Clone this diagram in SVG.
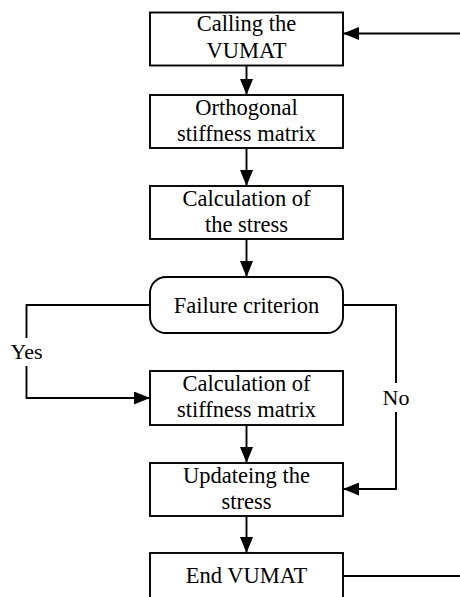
<svg xmlns="http://www.w3.org/2000/svg" width="460" height="597" viewBox="0 0 460 597">
<defs>
<marker id="ah" viewBox="0 0 16 13" refX="16" refY="6.5" markerWidth="16" markerHeight="13" markerUnits="userSpaceOnUse" orient="auto">
<path d="M0,0 L16,6.5 L0,13 Z" fill="#000"/>
</marker>
<style>
.box{fill:#fff;stroke:#000;stroke-width:1.9}
.t{font-size:22.5px;fill:#000;text-anchor:middle}
.c{fill:none;stroke:#000;stroke-width:1.9}
.lbl{font-size:22px;fill:#000;text-anchor:middle}
</style>
</defs>
<rect width="460" height="597" fill="#fff"/>
<g font-family="'Liberation Serif', 'DejaVu Serif', serif">
<g id="connectors">
<path class="c" d="M460,33.5 H343" marker-end="url(#ah)"/>
<path class="c" d="M246.5,65.5 V95" marker-end="url(#ah)"/>
<path class="c" d="M246.5,148 V186" marker-end="url(#ah)"/>
<path class="c" d="M246.5,239 V277" marker-end="url(#ah)"/>
<path class="c" d="M150,305 H26.5 V338"/>
<path class="c" d="M26.5,366 V398 H150" marker-end="url(#ah)"/>
<path class="c" d="M343,305 H396 V383"/>
<path class="c" d="M396,412 V489 H343" marker-end="url(#ah)"/>
<path class="c" d="M246.5,425 V463" marker-end="url(#ah)"/>
<path class="c" d="M246.5,516 V553" marker-end="url(#ah)"/>
<path class="c" d="M343,576 H460"/>
<text class="lbl" x="26.5" y="359">Yes</text>
<text class="lbl" x="396" y="405">No</text>
</g>
<g id="n1"><rect class="box" x="150" y="12.5" width="193" height="53"/><text class="t" x="246.5" y="30.5">Calling the</text><text class="t" x="246.5" y="58">VUMAT</text></g>
<g id="n2"><rect class="box" x="150" y="95" width="193" height="53"/><text class="t" x="246.5" y="115">Orthogonal</text><text class="t" x="246.5" y="140.5">stiffness matrix</text></g>
<g id="n3"><rect class="box" x="150" y="186" width="193" height="53"/><text class="t" x="246.5" y="206">Calculation of</text><text class="t" x="246.5" y="231.5">the stress</text></g>
<g id="n4"><rect class="box" x="150" y="277" width="193" height="56" rx="16" ry="16"/><text class="t" x="246.5" y="312.5">Failure criterion</text></g>
<g id="n5"><rect class="box" x="150" y="371" width="193" height="54"/><text class="t" x="246.5" y="391">Calculation of</text><text class="t" x="246.5" y="416.5">stiffness matrix</text></g>
<g id="n6"><rect class="box" x="150" y="463" width="193" height="53"/><text class="t" x="246.5" y="483">Updateing the</text><text class="t" x="246.5" y="508.5">stress</text></g>
<g id="n7"><rect class="box" x="150" y="553" width="193" height="60"/><text class="t" x="246.5" y="583">End VUMAT</text></g>
</g>
</svg>
